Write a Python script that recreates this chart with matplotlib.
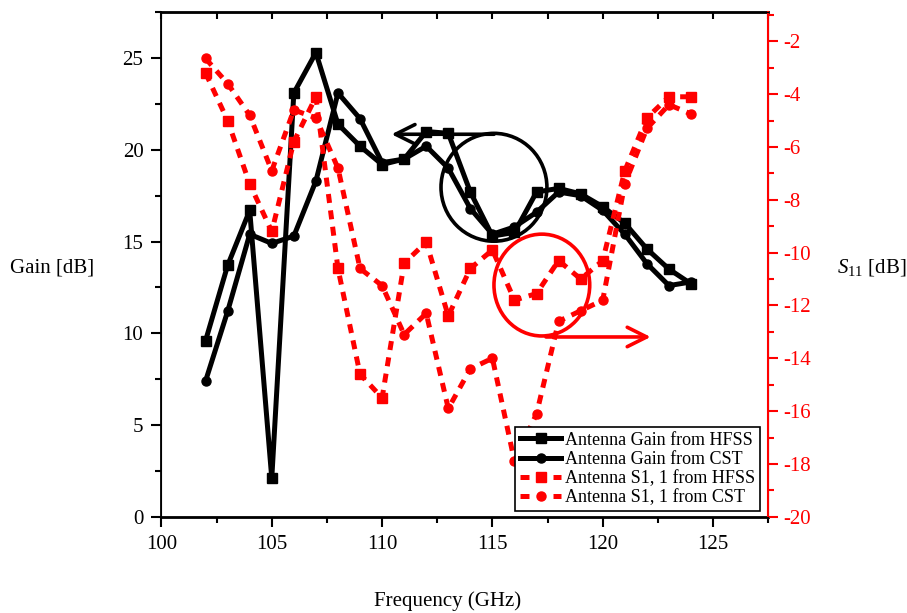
import matplotlib
matplotlib.use("Agg")
import matplotlib.pyplot as plt
from matplotlib.patches import Ellipse
from matplotlib.ticker import MultipleLocator

plt.rcParams['font.family'] = ['Liberation Serif', 'DejaVu Serif']
plt.rcParams['mathtext.fontset'] = 'custom'
plt.rcParams['mathtext.rm'] = 'Liberation Serif'
plt.rcParams['mathtext.it'] = 'Liberation Serif:italic'
plt.rcParams['axes.unicode_minus'] = False

# frequency points (GHz)
freq = list(range(102, 125))

# gain [dB]
gain_hfss = [9.6, 13.7, 16.7, 2.1, 23.1, 25.3, 21.4, 20.2, 19.2, 19.5, 21.0, 20.9,
             17.7, 15.3, 15.5, 17.7, 17.9, 17.6, 16.9, 16.0, 14.6, 13.5, 12.7]
gain_cst = [7.4, 11.2, 15.4, 14.9, 15.3, 18.3, 23.1, 21.7, 19.3, 19.5, 20.2, 19.0,
            16.8, 15.4, 15.8, 16.6, 17.7, 17.5, 16.7, 15.4, 13.8, 12.6, 12.8]

# S11 [dB]
s11_hfss = [-3.2, -5.0, -7.4, -9.2, -5.8, -4.1, -10.6, -14.6, -15.5, -10.4, -9.6, -12.4,
            -10.6, -9.9, -11.8, -11.55, -10.3, -11.0, -10.3, -6.9, -4.9, -4.1, -4.1]
s11_cst = [-2.65, -3.6, -4.8, -6.9, -4.6, -4.9, -6.8, -10.6, -11.25, -13.1, -12.3, -15.9,
           -14.4, -14.0, -17.9, -16.1, -12.6, -12.2, -11.8, -7.4, -5.3, -4.4, -4.75]

red = '#ff0000'

fig = plt.figure(figsize=(9.07, 6.13), dpi=100)
ax = fig.add_axes([0.178, 0.157, 0.669, 0.823])
ax2 = ax.twinx()

l1, = ax.plot(freq, gain_hfss, color='black', lw=3.6, marker='s', ms=7,
              label='Antenna Gain from HFSS')
l2, = ax.plot(freq, gain_cst, color='black', lw=3.6, marker='o', ms=6.5,
              label='Antenna Gain from CST')
l3, = ax2.plot(freq, s11_hfss, color=red, lw=3.6, ls=(0, (1.8, 1.5)), marker='s', ms=7,
               label='Antenna S1, 1 from HFSS')
l4, = ax2.plot(freq, s11_cst, color=red, lw=3.6, ls=(0, (1.8, 1.5)), marker='o', ms=6.5,
               label='Antenna S1, 1 from CST')

ax.set_xlim(100, 127.5)
ax.set_ylim(0, 27.5)
ax2.set_ylim(-20, -0.9)

ax.xaxis.set_major_locator(MultipleLocator(5))
ax.xaxis.set_minor_locator(MultipleLocator(2.5))
ax.yaxis.set_major_locator(MultipleLocator(5))
ax.yaxis.set_minor_locator(MultipleLocator(2.5))
ax2.yaxis.set_major_locator(MultipleLocator(2))
ax2.yaxis.set_minor_locator(MultipleLocator(1))

ax.tick_params(axis='both', which='major', labelsize=15, direction='out', length=7, width=1.5)
ax.tick_params(axis='both', which='minor', direction='out', length=4, width=1.5)
ax.tick_params(axis='x', pad=6)
ax.tick_params(axis='y', pad=6)
ax2.tick_params(axis='y', which='major', colors=red, labelsize=15, direction='out', length=7, width=1.5)
ax2.tick_params(axis='y', which='minor', colors=red, direction='out', length=4, width=1.5)

# inward ticks along the top edge
top = ax.secondary_xaxis('top')
top.xaxis.set_major_locator(MultipleLocator(2.5))
top.tick_params(direction='in', length=5, width=1.5, labeltop=False)
top.spines['top'].set_linewidth(2)

ax.spines['bottom'].set_linewidth(2)
ax.spines['left'].set_linewidth(1.3)
ax2.spines['right'].set_color(red)
ax2.spines['right'].set_linewidth(1.5)

# annotations: circles and arrows pointing to the axes
ax.add_patch(Ellipse((115.07, 17.96), 4.8, 5.88, fill=False, ec='black', lw=2.6, zorder=5))
ax.add_patch(Ellipse((117.24, 12.63), 4.34, 5.55, fill=False, ec=red, lw=2.6, zorder=5))
ax.annotate('', xy=(110.3, 20.85), xytext=(115.2, 20.85),
            arrowprops=dict(arrowstyle='->,head_length=1.4,head_width=0.7', color='black', lw=2.6))
ax.annotate('', xy=(122.3, 9.8), xytext=(117.3, 9.8),
            arrowprops=dict(arrowstyle='->,head_length=1.4,head_width=0.7', color=red, lw=2.6))

fig.text(0.057, 0.563, 'Gain [dB]', ha='center', va='center', fontsize=15)
fig.text(0.961, 0.563, r'$S_{11}$ [dB]', ha='center', va='center', fontsize=15)
fig.text(0.493, 0.02, 'Frequency (GHz)', ha='center', va='center', fontsize=15)

leg = ax2.legend(handles=[l1, l2, l3, l4], loc='lower right', bbox_to_anchor=(0.986, 0.012),
                 borderaxespad=0, fontsize=13, fancybox=False, edgecolor='black',
                 framealpha=1, labelspacing=0.12, handlelength=2.3, handletextpad=0.2,
                 borderpad=0.25)
leg.get_frame().set_linewidth(1.2)

fig.savefig('out.png', dpi=100)
